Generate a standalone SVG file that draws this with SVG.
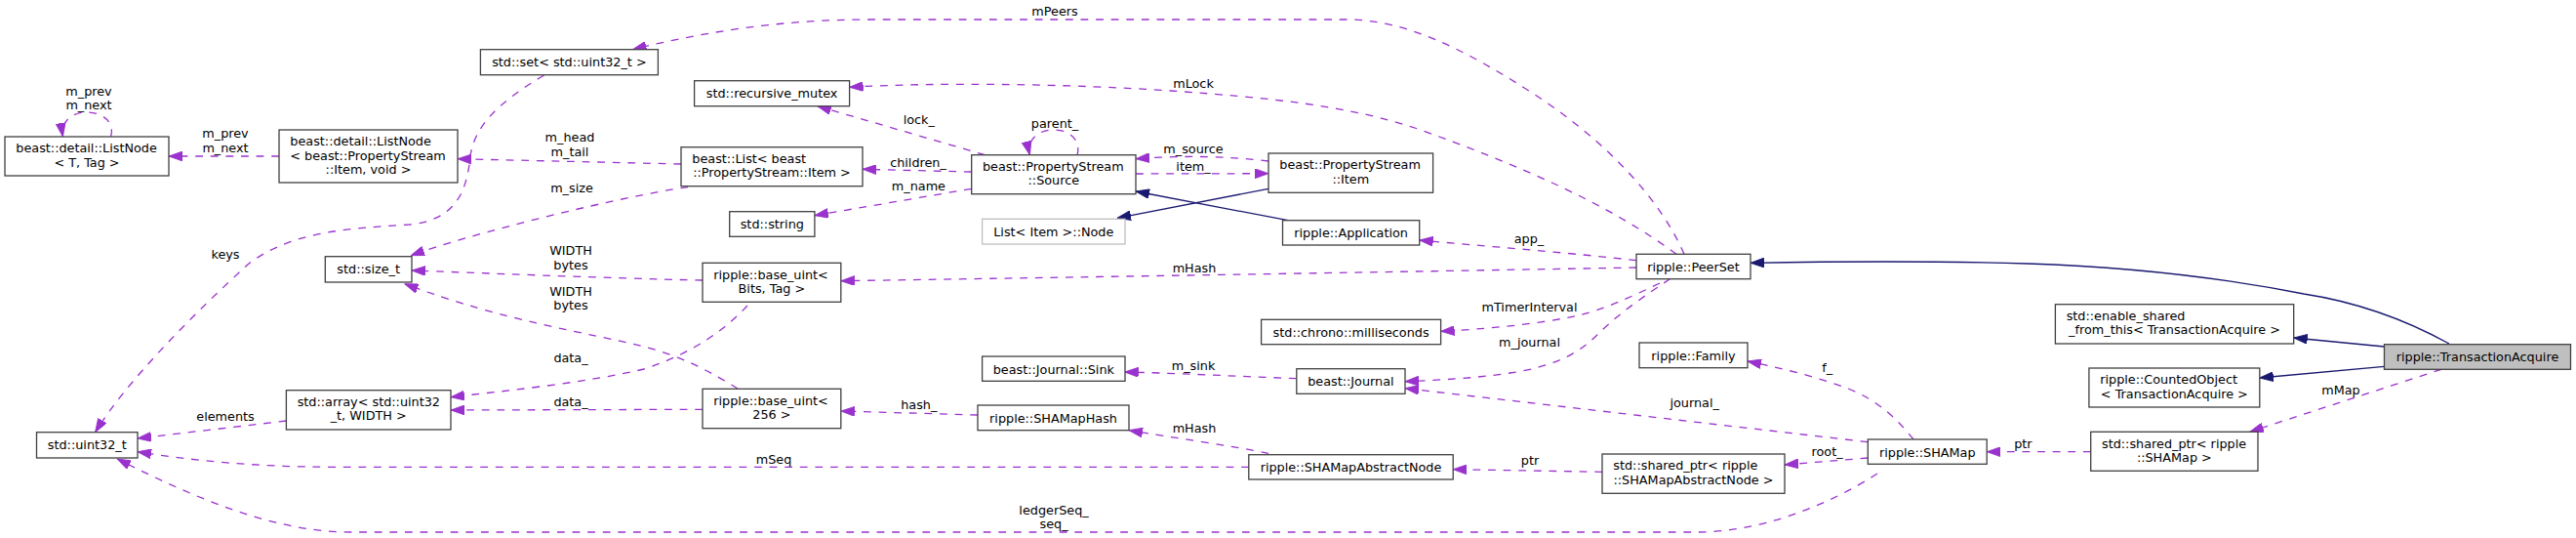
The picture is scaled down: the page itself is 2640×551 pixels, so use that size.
<svg xmlns="http://www.w3.org/2000/svg" width="2640" height="551" viewBox="0 0 2640 551">
<style>
text{font-family:"DejaVu Sans","Liberation Sans",sans-serif;font-size:12.8px;fill:#000}
.c{text-anchor:middle}
.l{text-anchor:start}
.node rect{fill:#fff;stroke:#404040;stroke-width:1.3}
.node.ext rect{stroke:#bfbfbf}
.node.main rect{fill:#bfbfbf}
.u{fill:none;stroke:#9a32cd;stroke-width:1.3;stroke-dasharray:7.8,7.8;marker-end:url(#ap)}
.i{fill:none;stroke:#191970;stroke-width:1.3;marker-end:url(#an)}
</style>
<defs>
<marker id="ap" markerUnits="userSpaceOnUse" markerWidth="14" markerHeight="10" viewBox="0 0 13 9.2" refX="13" refY="4.6" orient="auto"><polygon points="0,0 13,4.6 0,9.2" fill="#9a32cd" stroke="#9a32cd" stroke-width="0.8"/></marker>
<marker id="an" markerUnits="userSpaceOnUse" markerWidth="14" markerHeight="10" viewBox="0 0 13 9.2" refX="13" refY="4.6" orient="auto"><polygon points="0,0 13,4.6 0,9.2" fill="#191970" stroke="#191970" stroke-width="0.8"/></marker>
</defs>
<rect width="2640" height="551" fill="#fff"/>
<g id="edges">
<path class="u" d="M113.6,140 C118,125 105,115 89,115 C73,115 62,125 64.4,140"/>
<text class="c" x="91" y="97.6">m_prev</text><text class="c" x="91" y="111.6">m_next</text>
<path class="u" d="M286,160 L173,160"/>
<text class="c" x="231" y="141.3">m_prev</text><text class="c" x="231" y="156.3">m_next</text>
<path class="u" d="M557.7,77 C510,105 486,130 482,160 C478,200 465,225 420,230 C360,234 300,236 255,270 C200,320 130,390 97.6,442.7"/>
<text class="c" x="231" y="264.6">keys</text>
<path class="u" d="M698,168 L469,162.7"/>
<text class="c" x="584" y="144.9">m_head</text><text class="c" x="584" y="159.6">m_tail</text>
<path class="u" d="M705,191.7 C640,200 480,240 421,261.7"/>
<text class="c" x="586" y="197.3">m_size</text>
<path class="u" d="M720,287 C620,285 480,279 422,277"/>
<text class="c" x="585" y="261.3">WIDTH</text><text class="c" x="585" y="276.3">bytes</text>
<path class="u" d="M756,398 C730,382 700,365 660,355 C600,340 520,330 414.6,290.7"/>
<text class="c" x="585" y="303.3">WIDTH</text><text class="c" x="585" y="317.3">bytes</text>
<path class="u" d="M766,313 C745,335 715,360 660,378 C600,392 520,400 462,406.7"/>
<text class="c" x="585" y="371.3">data_</text>
<path class="u" d="M720,419.3 L462,420"/>
<text class="c" x="585" y="416.3">data_</text>
<path class="u" d="M293.4,431 L141,449"/>
<text class="c" x="231" y="430.9">elements</text>
<path class="u" d="M1280,478.3 L340,478.3 C260,478 200,472 141,462.7"/>
<text class="c" x="793" y="475.3">mSeq</text>
<path class="u" d="M1924,485 C1870,520 1800,545 1740,545 L360,545 C280,545 200,510 120,470"/>
<text class="c" x="1080" y="527.3">ledgerSeq_</text><text class="c" x="1080" y="541.3">seq_</text>
<path class="u" d="M1726,260.3 C1700,200 1640,140 1570,95 C1500,50 1440,20 1380,20 L890,20 C800,20 720,33 648.4,50.7"/>
<text class="c" x="1081" y="16.3">mPeers</text>
<path class="u" d="M1718,260.3 C1650,210 1560,170 1450,131 C1380,108 1300,100 1200,93 C1100,86 960,84 870.6,89.3"/>
<text class="c" x="1223" y="89.6">mLock</text>
<path class="u" d="M1009.5,158.7 L837.8,108.7"/>
<text class="c" x="941.8" y="127.3">lock_</text>
<path class="u" d="M1104,158.7 C1108,145 1098,133 1080,133 C1062,133 1052,145 1055.4,158.7"/>
<text class="c" x="1081" y="130.6">parent_</text>
<path class="u" d="M995.7,176 L884,173.3"/>
<text class="c" x="941" y="170.6">children_</text>
<path class="u" d="M995.7,193.3 L834.9,220.7"/>
<text class="c" x="941.4" y="195.3">m_name</text>
<path class="u" d="M1300,165 C1260,160 1210,159 1164,162.7"/>
<text class="c" x="1223" y="157.3">m_source</text>
<path class="u" d="M1164,178 L1300,177.7"/>
<text class="c" x="1223" y="175.3">item_</text>
<path class="i" d="M1300,193.3 L1145,223.3"/>
<path class="i" d="M1320,225.7 L1164,196"/>
<path class="u" d="M1677,266.7 C1600,258 1520,252 1454.7,246"/>
<text class="c" x="1567" y="248.9">app_</text>
<path class="u" d="M1677,274 C1400,279 1100,284 861.8,287.7"/>
<text class="c" x="1224" y="278.6">mHash</text>
<path class="i" d="M2510,352 C2470,330 2420,310 2361,301 C2300,289 2200,274 2078,270 C1980,267 1870,268 1794,269.3"/>
<path class="u" d="M1701,290 C1670,305 1640,318 1616.7,323.3 C1570,333 1520,337 1476.6,339.3"/>
<text class="c" x="1567.5" y="318.9">mTimerInterval</text>
<path class="u" d="M1711.4,285.7 C1690,300 1660,320 1640,340 C1620,360 1600,372 1560,380 C1520,387 1480,389 1440,390.7"/>
<text class="c" x="1567.5" y="355.3">m_journal</text>
<path class="u" d="M1328.8,387.7 C1260,385 1200,382 1152.6,381"/>
<text class="c" x="1223" y="379.3">m_sink</text>
<path class="u" d="M1002,425 L861.8,421"/>
<text class="c" x="941.8" y="419.3">hash_</text>
<path class="u" d="M1300,464.3 C1260,456 1200,448 1157,440.7"/>
<text class="c" x="1224" y="442.9">mHash</text>
<path class="u" d="M1642,483.3 L1489.2,480.7"/>
<text class="c" x="1568" y="476.3">ptr</text>
<path class="u" d="M1914.3,469 L1829,476"/>
<text class="c" x="1872.6" y="467.3">root_</text>
<path class="u" d="M1961,450 C1945,430 1925,410 1894,398 C1860,385 1820,376 1791,370"/>
<text class="c" x="1872.6" y="380.6">f_</text>
<path class="u" d="M1914.3,452.7 L1440,397.7"/>
<text class="c" x="1736.7" y="417.3">journal_</text>
<path class="u" d="M2142.7,462.7 L2036.2,462.7"/>
<text class="c" x="2073.4" y="458.9">ptr</text>
<path class="u" d="M2502,378.3 L2305.7,442.3"/>
<text class="c" x="2399" y="403.9">mMap</text>
<path class="i" d="M2443.5,355 L2350.7,346"/>
<path class="i" d="M2443.5,375.3 L2315.8,387"/>
</g>
<g id="n_listnode_t" class="node"><rect x="5" y="140" width="168" height="40"/><text class="l" x="16.3" y="156.3">beast::detail::ListNode</text><text class="c" x="89" y="170.6">&lt; T, Tag &gt;</text></g>
<g id="n_listnode_item" class="node"><rect x="286" y="133" width="183" height="54"/><text class="l" x="297.3" y="149.3">beast::detail::ListNode</text><text class="l" x="297.3" y="163.6">&lt; beast::PropertyStream</text><text class="c" x="377.5" y="177.9">::Item, void &gt;</text></g>
<g id="n_std_set" class="node"><rect x="492.4" y="50.7" width="182" height="26"/><text class="c" x="583.4" y="68.3">std::set&lt; std::uint32_t &gt;</text></g>
<g id="n_recursive_mutex" class="node"><rect x="711.6" y="82.7" width="159" height="26"/><text class="c" x="791.1" y="100.3">std::recursive_mutex</text></g>
<g id="n_beast_list" class="node"><rect x="698" y="150.7" width="186" height="40"/><text class="l" x="709.3" y="167">beast::List&lt; beast</text><text class="c" x="791" y="181.3">::PropertyStream::Item &gt;</text></g>
<g id="n_std_string" class="node"><rect x="747.7" y="216.7" width="87.2" height="25.6"/><text class="c" x="791.3" y="234">std::string</text></g>
<g id="n_size_t" class="node"><rect x="333.3" y="262.7" width="88.7" height="26.3"/><text class="c" x="377.7" y="280.3">std::size_t</text></g>
<g id="n_base_uint_bits" class="node"><rect x="720" y="269.3" width="141.8" height="40"/><text class="l" x="731.3" y="285.6">ripple::base_uint&lt;</text><text class="c" x="790.9" y="299.9">Bits, Tag &gt;</text></g>
<g id="n_std_array" class="node"><rect x="293.4" y="399.7" width="168.6" height="40.3"/><text class="l" x="304.7" y="416">std::array&lt; std::uint32</text><text class="c" x="377.7" y="430.3">_t, WIDTH &gt;</text></g>
<g id="n_uint32" class="node"><rect x="37.5" y="442.7" width="103.5" height="26.3"/><text class="c" x="89.25" y="460.3">std::uint32_t</text></g>
<g id="n_base_uint_256" class="node"><rect x="720" y="398.3" width="141.8" height="40.4"/><text class="l" x="731.3" y="414.6">ripple::base_uint&lt;</text><text class="c" x="790.9" y="428.9">256 &gt;</text></g>
<g id="n_source" class="node"><rect x="995.7" y="158.7" width="168.3" height="40"/><text class="l" x="1007" y="175">beast::PropertyStream</text><text class="c" x="1079.85" y="189.3">::Source</text></g>
<g id="n_list_item_node" class="node ext"><rect x="1006.6" y="224.3" width="146.4" height="25.7"/><text class="c" x="1079.8" y="241.9">List&lt; Item &gt;::Node</text></g>
<g id="n_ps_item" class="node"><rect x="1300" y="157" width="168.6" height="40.3"/><text class="l" x="1311.3" y="173.3">beast::PropertyStream</text><text class="c" x="1384.3" y="187.6">::Item</text></g>
<g id="n_application" class="node"><rect x="1314.5" y="225.7" width="140.2" height="25.3"/><text class="c" x="1384.6" y="243.3">ripple::Application</text></g>
<g id="n_peerset" class="node"><rect x="1677" y="260.3" width="117" height="25.4"/><text class="c" x="1735.5" y="277.9">ripple::PeerSet</text></g>
<g id="n_chrono" class="node"><rect x="1292.6" y="327.3" width="184" height="25.4"/><text class="c" x="1384.6" y="344.9">std::chrono::milliseconds</text></g>
<g id="n_journal" class="node"><rect x="1328.8" y="377.7" width="111.2" height="25.6"/><text class="c" x="1384.4" y="395.3">beast::Journal</text></g>
<g id="n_sink" class="node"><rect x="1006.6" y="365" width="146.4" height="25.3"/><text class="c" x="1079.8" y="382.6">beast::Journal::Sink</text></g>
<g id="n_shamaphash" class="node"><rect x="1002" y="415" width="155" height="25.7"/><text class="c" x="1079.5" y="432.6">ripple::SHAMapHash</text></g>
<g id="n_abstractnode" class="node"><rect x="1279.8" y="465.7" width="209.4" height="25.3"/><text class="c" x="1384.5" y="483.3">ripple::SHAMapAbstractNode</text></g>
<g id="n_sp_abstractnode" class="node"><rect x="1642" y="465" width="187" height="40.3"/><text class="l" x="1653.3" y="481.3">std::shared_ptr&lt; ripple</text><text class="c" x="1735.5" y="495.6">::SHAMapAbstractNode &gt;</text></g>
<g id="n_family" class="node"><rect x="1680" y="351" width="111" height="25.7"/><text class="c" x="1735.5" y="368.6">ripple::Family</text></g>
<g id="n_shamap" class="node"><rect x="1914.3" y="450" width="121.9" height="25.3"/><text class="c" x="1975.25" y="467.6">ripple::SHAMap</text></g>
<g id="n_sp_shamap" class="node"><rect x="2142.7" y="442.3" width="171.3" height="40"/><text class="l" x="2154" y="458.6">std::shared_ptr&lt; ripple</text><text class="c" x="2228.35" y="472.9">::SHAMap &gt;</text></g>
<g id="n_enable_shared" class="node"><rect x="2106.4" y="311.7" width="244.3" height="40.3"/><text class="l" x="2117.7" y="328">std::enable_shared</text><text class="c" x="2228.55" y="342.3">_from_this&lt; TransactionAcquire &gt;</text></g>
<g id="n_counted" class="node"><rect x="2140.9" y="377" width="174.9" height="40"/><text class="l" x="2152.2" y="393.3">ripple::CountedObject</text><text class="c" x="2228.35" y="407.6">&lt; TransactionAcquire &gt;</text></g>
<g id="n_transaction_acquire" class="node main"><rect x="2443.5" y="352.7" width="191" height="25.6"/><text class="c" x="2539" y="370.3">ripple::TransactionAcquire</text></g>
</svg>
